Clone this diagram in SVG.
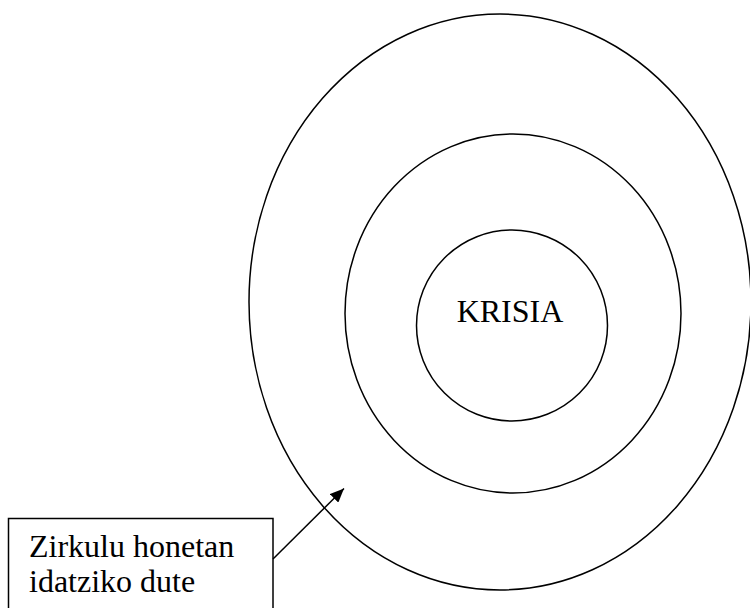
<svg xmlns="http://www.w3.org/2000/svg" width="750" height="608" viewBox="0 0 750 608">
<defs>
<style>
.ring{fill:none;stroke:#000;stroke-width:1.5}
.lbl{font-family:"Liberation Serif","Times New Roman",serif;font-size:32px;fill:#000}
.edge{fill:none;stroke:#000;stroke-width:1.5}
</style>
<marker id="arr" viewBox="0 0 14 12" refX="14" refY="6" markerWidth="14" markerHeight="12" markerUnits="userSpaceOnUse" orient="auto">
<path d="M0,0 L14,6 L0,12 Z" fill="#000"/>
</marker>
</defs>
<rect width="750" height="608" fill="#fff"/>
<g id="outer"><ellipse class="ring" cx="500" cy="302" rx="251" ry="288"/></g>
<g id="middle"><ellipse class="ring" cx="513" cy="313.5" rx="168" ry="179.5"/></g>
<g id="inner"><ellipse class="ring" cx="512" cy="325.5" rx="95.5" ry="95.5"/><text class="lbl" x="510" y="321.5" text-anchor="middle">KRISIA</text></g>
<g id="note"><rect x="8.5" y="518.5" width="264.5" height="100" fill="#fff" stroke="#000" stroke-width="1.5"/><text class="lbl" x="29" y="556.5">Zirkulu honetan</text><text class="lbl" x="29" y="591.5">idatziko dute</text></g>
<g id="connectors"><line class="edge" x1="273" y1="559" x2="344" y2="488.5" marker-end="url(#arr)"/></g>
</svg>
